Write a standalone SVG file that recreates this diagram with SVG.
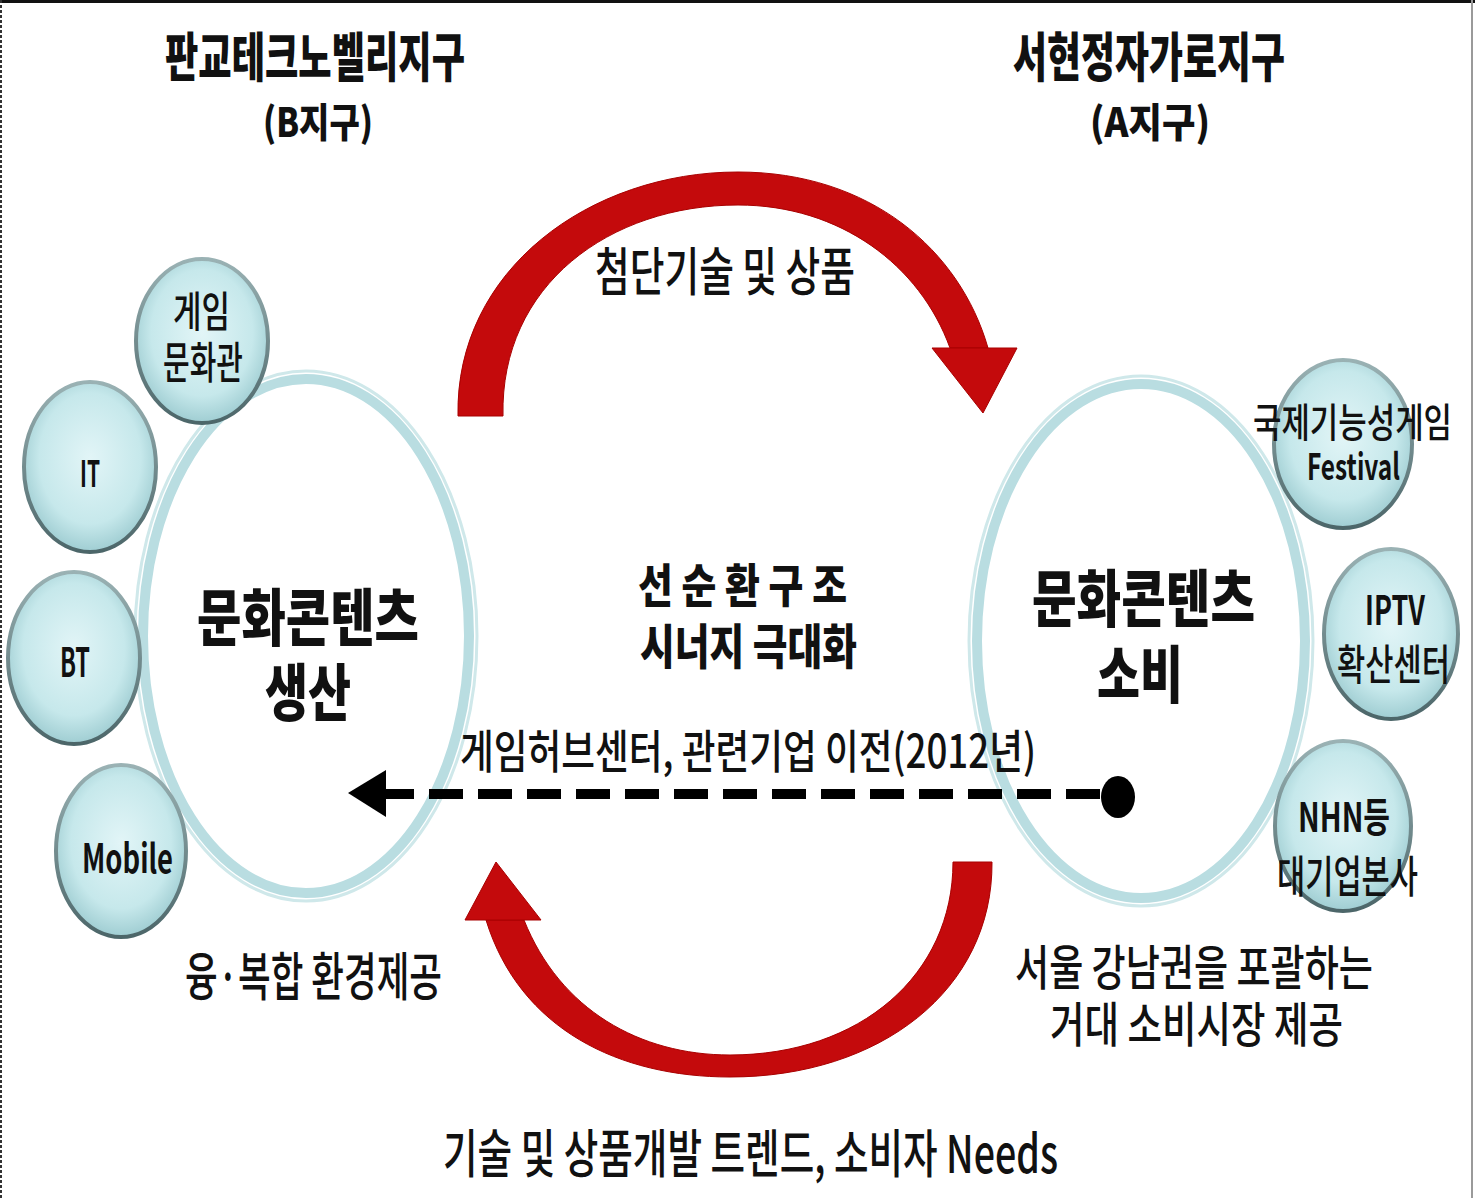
<svg xmlns="http://www.w3.org/2000/svg" width="1475" height="1198" viewBox="0 0 1475 1198">
<defs>
<radialGradient id="bub" cx="50%" cy="45%" r="55%">
<stop offset="0" stop-color="#e2f5f7"/>
<stop offset="0.7" stop-color="#c6e8eb"/>
<stop offset="1" stop-color="#9fcdd2"/>
</radialGradient>
<linearGradient id="rim" x1="0" y1="0" x2="0" y2="1">
<stop offset="0" stop-color="#9ab2b4"/>
<stop offset="1" stop-color="#4c6669"/>
</linearGradient>
<style>
text{font-family:"Noto Sans CJK KR","Noto Sans",sans-serif;fill:#111;font-weight:500}
.b{font-weight:700}
.k{font-weight:900}
.bub{fill:url(#bub);stroke:url(#rim);stroke-width:4}
.ringo{fill:#fff;stroke:#cfe8ea;stroke-width:3}
.ringi{fill:none;stroke:#b9dde1;stroke-width:10}
.red{fill:#c40a0c;stroke:#a80000;stroke-width:1}
</style>
</defs>
<rect x="0" y="0" width="1475" height="1198" fill="#fff"/>
<line x1="0" y1="1.5" x2="1475" y2="1.5" stroke="#111" stroke-width="3"/>
<line x1="1" y1="0" x2="1" y2="1198" stroke="#333" stroke-width="2" stroke-dasharray="3 2"/>
<line x1="1472" y1="0" x2="1472" y2="1198" stroke="#9a9a9a" stroke-width="2"/>

<g id="title-b">
<text class="k" x="165" y="77" font-size="53" textLength="300" lengthAdjust="spacingAndGlyphs">판교테크노벨리지구</text>
<text class="k" x="263" y="137" font-size="40" textLength="110" lengthAdjust="spacingAndGlyphs">(B지구)</text>
</g>
<g id="title-a">
<text class="k" x="1013" y="77" font-size="53" textLength="272" lengthAdjust="spacingAndGlyphs">서현정자가로지구</text>
<text class="k" x="1090" y="137" font-size="40" textLength="120" lengthAdjust="spacingAndGlyphs">(A지구)</text>
</g>

<g id="production">
<ellipse class="ringo" cx="306" cy="636" rx="171" ry="265"/>
<ellipse class="ringi" cx="306" cy="636" rx="163" ry="257"/>
<text class="k" x="197" y="641" font-size="62" textLength="222" lengthAdjust="spacingAndGlyphs">문화콘텐츠</text>
<text class="k" x="265" y="716" font-size="62" textLength="86" lengthAdjust="spacingAndGlyphs">생산</text>
</g>
<g id="consumption">
<ellipse class="ringo" cx="1141" cy="641" rx="172" ry="265"/>
<ellipse class="ringi" cx="1141" cy="641" rx="164" ry="257"/>
<text class="k" x="1032" y="622" font-size="62" textLength="223" lengthAdjust="spacingAndGlyphs">문화콘텐츠</text>
<text class="k" x="1097" y="698" font-size="62" textLength="86" lengthAdjust="spacingAndGlyphs">소비</text>
</g>

<g id="node-game">
<ellipse class="bub" cx="202" cy="341" rx="66" ry="82"/>
<text x="173" y="327" font-size="42" textLength="57" lengthAdjust="spacingAndGlyphs">게임</text>
<text x="163" y="379" font-size="44" textLength="80" lengthAdjust="spacingAndGlyphs">문화관</text>
</g>
<g id="node-it">
<ellipse class="bub" cx="90" cy="467" rx="66" ry="85"/>
<text class="b" x="80" y="487" font-size="37" textLength="20" lengthAdjust="spacingAndGlyphs">IT</text>
</g>
<g id="node-bt">
<ellipse class="bub" cx="74" cy="658" rx="66" ry="86"/>
<text class="b" x="60" y="677" font-size="40" textLength="30" lengthAdjust="spacingAndGlyphs">BT</text>
</g>
<g id="node-mobile">
<ellipse class="bub" cx="121" cy="851" rx="65" ry="86"/>
<text class="b" x="82" y="873" font-size="40" textLength="91" lengthAdjust="spacingAndGlyphs">Mobile</text>
</g>
<g id="node-festival">
<ellipse class="bub" cx="1343" cy="444" rx="69" ry="84"/>
<text x="1253" y="437" font-size="40" textLength="199" lengthAdjust="spacingAndGlyphs">국제기능성게임</text>
<text class="b" x="1307" y="480" font-size="36" textLength="93" lengthAdjust="spacingAndGlyphs">Festival</text>
</g>
<g id="node-iptv">
<ellipse class="bub" cx="1391" cy="634" rx="67" ry="85"/>
<text class="b" x="1365" y="625" font-size="40" textLength="60" lengthAdjust="spacingAndGlyphs">IPTV</text>
<text x="1337" y="680" font-size="42" textLength="113" lengthAdjust="spacingAndGlyphs">확산센터</text>
</g>
<g id="node-nhn">
<ellipse class="bub" cx="1343" cy="826" rx="68" ry="85"/>
<text class="b" x="1298" y="832" font-size="40" textLength="92" lengthAdjust="spacingAndGlyphs">NHN등</text>
<text x="1277" y="893" font-size="44" textLength="141" lengthAdjust="spacingAndGlyphs">대기업본사</text>
</g>

<g id="connectors">
<path class="red" d="M 458 416 C 455 270 590 172 738 172 C 870 172 960 250 988 348 L 950 348 C 920 265 840 205 738 205 C 610 205 500 285 503 416 Z"/>
<path class="red" d="M 932 348 L 1017 348 L 983 413 Z"/>
<path class="red" d="M 486 920 C 520 1030 620 1077 730 1077 C 880 1077 993 990 992 862 L 953 862 C 953 975 860 1055 730 1055 C 640 1055 560 1010 524 920 Z"/>
<path class="red" d="M 465 920 L 541 920 L 496 862 Z"/>
<path d="M 1100 794 L 384 794" stroke="#000" stroke-width="10" stroke-dasharray="34 15" fill="none"/>
<path d="M 348 793 L 386 770 L 386 817 Z" fill="#000"/>
<ellipse cx="1118" cy="797" rx="17" ry="21" fill="#000"/>
</g>

<g id="labels">
<text x="595" y="291" font-size="52" textLength="260" lengthAdjust="spacingAndGlyphs">첨단기술 및 상품</text>
<text class="k" x="638" y="602" font-size="46" textLength="209" lengthAdjust="spacingAndGlyphs">선 순 환 구 조</text>
<text class="k" x="640" y="664" font-size="48" textLength="217" lengthAdjust="spacingAndGlyphs">시너지 극대화</text>
<text x="460" y="768" font-size="46" textLength="576" lengthAdjust="spacingAndGlyphs">게임허브센터, 관련기업 이전(2012년)</text>
<text x="185" y="996" font-size="52" textLength="257" lengthAdjust="spacingAndGlyphs">융·복합 환경제공</text>
<text x="1015" y="985" font-size="48" textLength="358" lengthAdjust="spacingAndGlyphs">서울 강남권을 포괄하는</text>
<text x="1050" y="1042" font-size="48" textLength="293" lengthAdjust="spacingAndGlyphs">거대 소비시장 제공</text>
<text x="443" y="1173" font-size="52" textLength="615" lengthAdjust="spacingAndGlyphs">기술 및 상품개발 트렌드, 소비자 Needs</text>
</g>
</svg>
